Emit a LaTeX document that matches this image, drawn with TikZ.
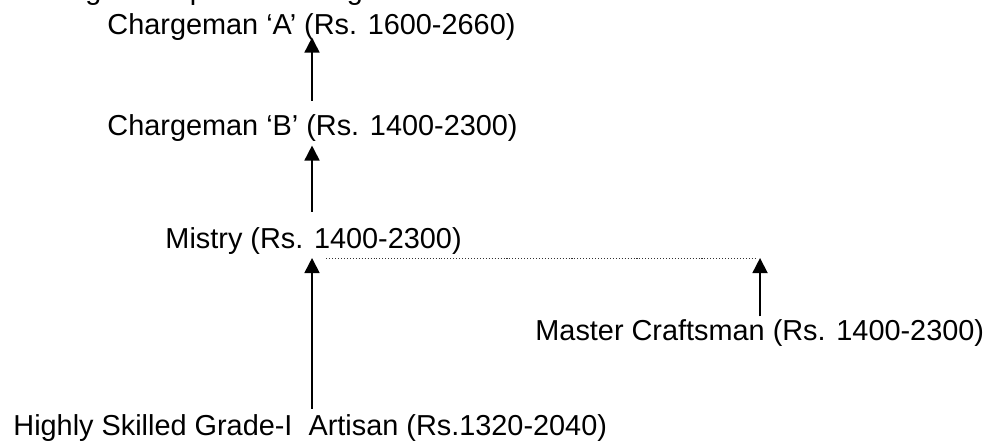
\documentclass[tikz,border=0pt]{standalone}
\usepackage{fontspec}
\setmainfont{Liberation Sans}
\usepackage{tikz}
\usetikzlibrary{positioning,arrows.meta,calc}

\begin{document}
\begin{tikzpicture}[
  every node/.style={font=\fontsize{12.7}{15}\selectfont,inner sep=0pt,anchor=base west},
  up/.style={-{Triangle[width=6.6pt,length=6.6pt]},line width=0.75pt},
  link/.style={line width=0.45pt,black!80,dash pattern=on 0.45pt off 0.85pt}
]
\useasboundingbox (0,0) rectangle (15.263,-6.851);

% line cut off at the top
\node (intro) at (0.124,0) {leading to the post of Chargeman ‘A’ is as under:};

% posts
\node (ca) at (1.655,-0.541) {Chargeman ‘A’ (Rs. 1600-2660)};
\node (cb) at (1.655,-2.088) {Chargeman ‘B’ (Rs. 1400-2300)};
\node (mistry) at (2.552,-3.850) {Mistry (Rs. 1400-2300)};
\node (master) at (8.273,-5.258) {Master Craftsman (Rs. 1400-2300)};
\node (hs) at (0.201,-6.727) {Highly Skilled Grade-I\ \ Artisan (Rs.1320-2040)};

% where the lower arrows end
\coordinate (lt) at (4.825,-3.990);
\coordinate (rt) at (11.753,-3.990);

% promotion arrows
\draw[up] ([yshift=5.7pt]cb.north -| lt) -- ([yshift=1.7pt]ca.south -| lt);
\draw[up] ([yshift=7pt]mistry.north -| lt) -- ([yshift=-1.8pt]cb.south -| lt);
\draw[up] ([yshift=2.2pt]hs.north -| lt) -- (lt);
\draw[up] ([yshift=1pt]master.north -| rt) -- (rt);

% equivalence
\draw[link] ([xshift=0.22cm]lt) -- ([xshift=-0.06cm]rt);

\end{tikzpicture}
\end{document}
